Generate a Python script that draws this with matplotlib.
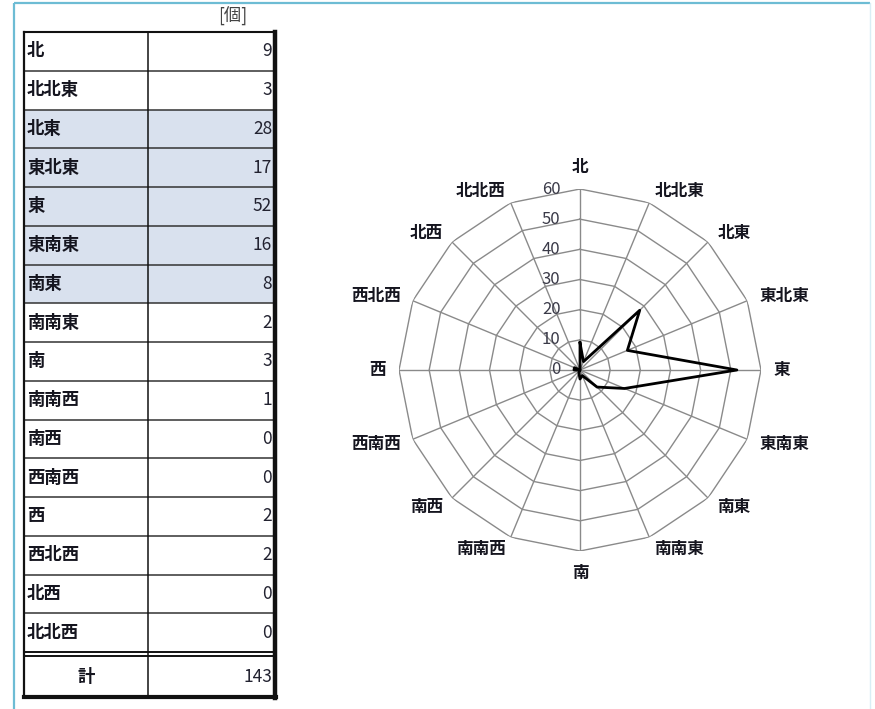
import numpy as np
import matplotlib
matplotlib.use("Agg")
import matplotlib.pyplot as plt
from matplotlib.patches import Rectangle

plt.rcParams['font.family'] = ['Noto Sans CJK JP', 'DejaVu Sans']

# ---- data ----
directions = ["北", "北北東", "北東", "東北東", "東", "東南東", "南東", "南南東",
              "南", "南南西", "南西", "西南西", "西", "西北西", "北西", "北北西"]
counts = [9, 3, 28, 17, 52, 16, 8, 2, 3, 1, 0, 0, 2, 2, 0, 0]
highlight = [2, 3, 4, 5, 6]
total_label = "計"
total_value = 143
unit_label = "[個]"
r_ticks = [0, 10, 20, 30, 40, 50, 60]

W, H = 875, 709
fig = plt.figure(figsize=(W / 100, H / 100), dpi=100)

# ---- pixel-space canvas for frame and table ----
cv = fig.add_axes([0, 0, 1, 1])
cv.set_xlim(0, W)
cv.set_ylim(H, 0)
cv.axis('off')

border_c = '#6dbcd4'
cv.plot([13.5, 13.5], [2.5, H], color=border_c, lw=1.6, solid_capstyle='butt')
cv.plot([13.5, 870], [2.5, 2.5], color=border_c, lw=1.6, solid_capstyle='butt')
cv.plot([870, 870], [2.5, H], color='#d9eef5', lw=1.0)

txt_c = '#15151f'
x0, xm, x1 = 24, 148, 275
top = 32
row_h = 38.75
n = len(directions)
sep_y = top + n * row_h
tot_top = sep_y + 4
tot_bot = 697

for i in highlight:
    cv.add_patch(Rectangle((x0, top + i * row_h), x1 - x0, row_h,
                           facecolor='#d9e1ee', edgecolor='none', zorder=1))

for i in range(1, n):
    y = top + i * row_h
    cv.plot([x0, x1], [y, y], color='#333333', lw=1.1, zorder=2)
cv.plot([x0, x1], [top, top], color='#111111', lw=1.5, zorder=3)
cv.plot([x0, x1], [sep_y, sep_y], color='#111111', lw=1.4, zorder=3)
cv.plot([x0, x1], [tot_top, tot_top], color='#111111', lw=1.4, zorder=3)
cv.plot([x0, x1 + 1], [tot_bot, tot_bot], color='#111111', lw=3.0, zorder=3)
cv.plot([x0, x0], [top, tot_bot], color='#111111', lw=1.6, zorder=3)
cv.plot([xm, xm], [top, tot_bot], color='#111111', lw=1.1, zorder=3)
cv.plot([x1, x1], [top, tot_bot + 1], color='#111111', lw=3.2, zorder=3)

fs = 12.5
for i, (d, v) in enumerate(zip(directions, counts)):
    yc = top + (i + 0.5) * row_h
    cv.text(27, yc, d, ha='left', va='center', fontsize=fs, color=txt_c,
            fontweight='bold', zorder=4)
    cv.text(272, yc, str(v), ha='right', va='center', fontsize=fs, color='#222230',
            zorder=4)
yc = (tot_top + tot_bot) / 2
cv.text((x0 + xm) / 2, yc, total_label, ha='center', va='center', fontsize=fs,
        color=txt_c, fontweight='bold', zorder=4)
cv.text(272, yc, str(total_value), ha='right', va='center', fontsize=fs,
        color='#222230', zorder=4)
cv.text(233, 16, unit_label, ha='center', va='center', fontsize=fs, color='#444444')

# ---- radar chart ----
cx, cy, R = 580, 370, 181
ax = fig.add_axes([(cx - R) / W, (H - cy - R) / H, 2 * R / W, 2 * R / H],
                  projection='polar')
ax.set_theta_zero_location('N')
ax.set_theta_direction(-1)
ax.set_ylim(0, r_ticks[-1])
ax.grid(False)
ax.set_xticks([])
ax.set_yticks([])
ax.spines['polar'].set_visible(False)
ax.patch.set_alpha(0)

theta = np.arange(n) * 2 * np.pi / n
theta_c = np.append(theta, theta[0])
grid_c = '#8a8a8a'
for r in r_ticks[1:]:
    ax.plot(theta_c, [r] * (n + 1), color=grid_c, lw=1.0, zorder=1)
for t in theta:
    ax.plot([t, t], [0, r_ticks[-1]], color=grid_c, lw=1.0, zorder=1)

vals = np.append(counts, counts[0])
ax.plot(theta_c, vals, color='black', lw=2.0, zorder=3, clip_on=False)

for r in r_ticks:
    ax.annotate(str(r), xy=(0, r), xytext=(-14, 0), textcoords='offset points',
                ha='right', va='center', fontsize=12, color='#3a3a48',
                zorder=4, annotation_clip=False)

r_lab = r_ticks[-1] * 194 / 181
for t, d in zip(theta, directions):
    s = np.sin(t)
    if abs(s) < 1e-6:
        ha = 'center'
        va = 'bottom' if np.cos(t) > 0 else 'top'
    else:
        ha = 'left' if s > 0 else 'right'
        va = 'center'
    ax.text(t, r_lab, d, ha=ha, va=va, fontsize=12, color=txt_c,
            fontweight='bold', clip_on=False)

fig.savefig('out.png', dpi=100)
